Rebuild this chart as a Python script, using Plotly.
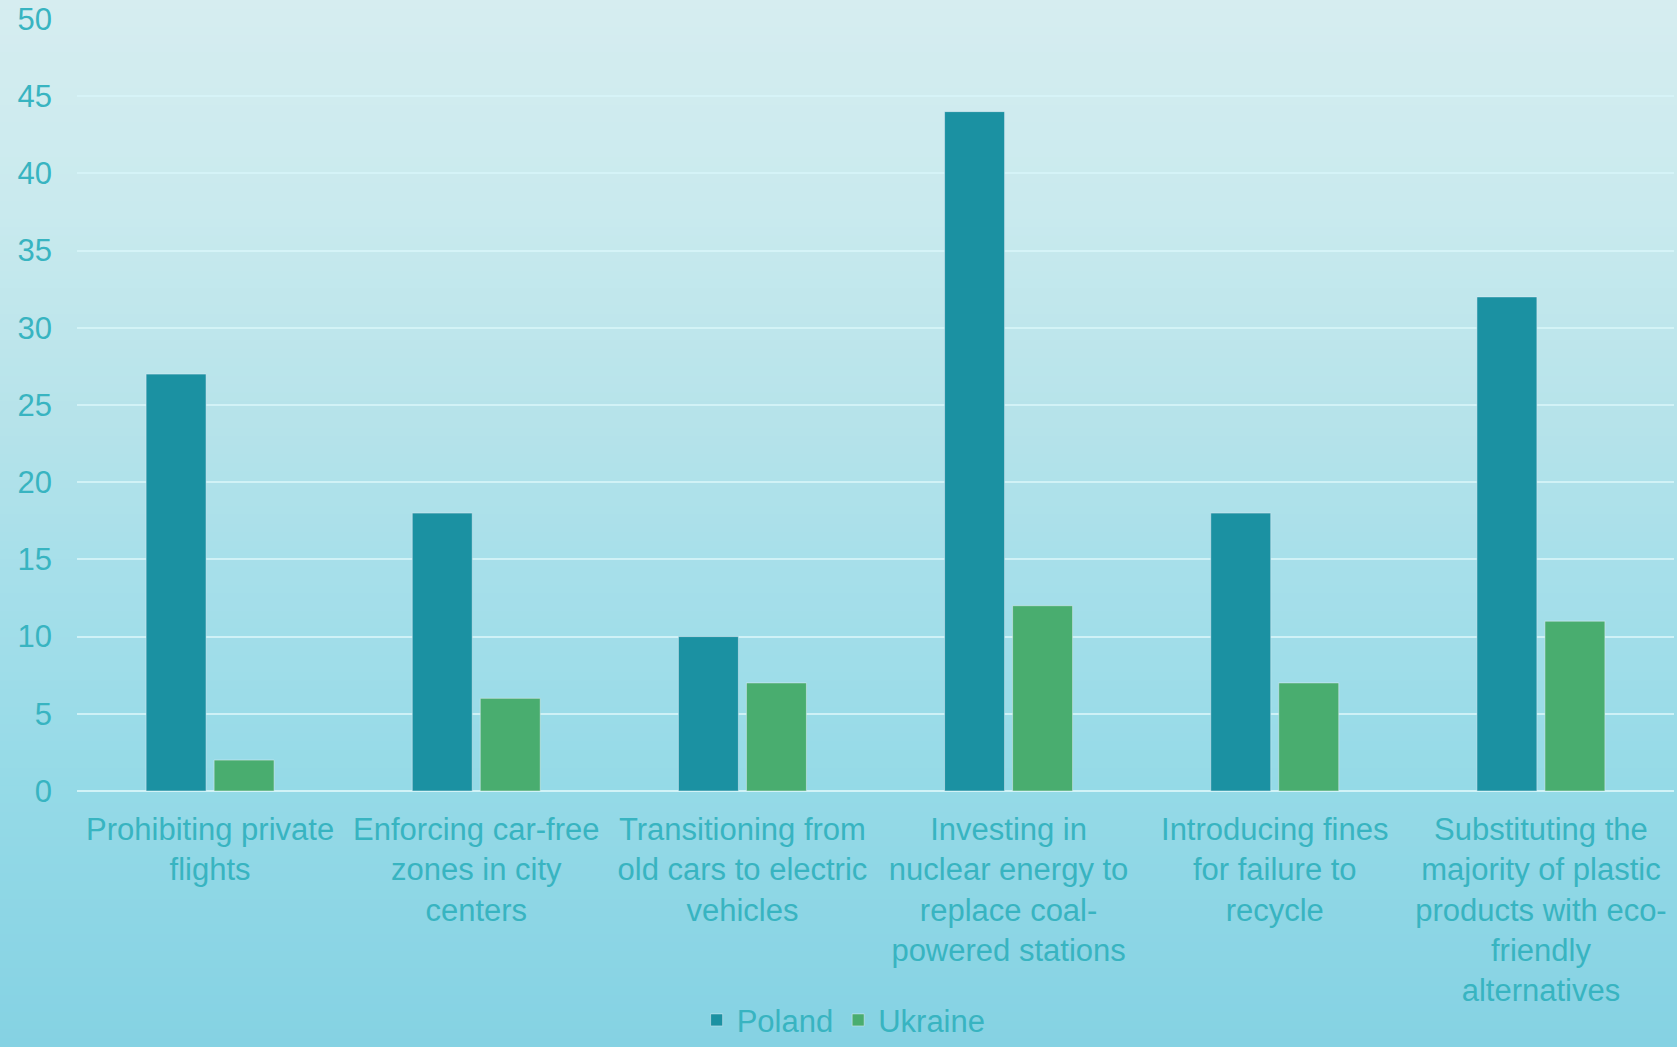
import plotly.graph_objects as go

categories = [
    "Prohibiting private<br>flights",
    "Enforcing car-free<br>zones in city<br>centers",
    "Transitioning from<br>old cars to electric<br>vehicles",
    "Investing in<br>nuclear energy to<br>replace coal-<br>powered stations",
    "Introducing fines<br>for failure to<br>recycle",
    "Substituting the<br>majority of plastic<br>products with eco-<br>friendly<br>alternatives",
]
poland = [27, 18, 10, 44, 18, 32]
ukraine = [2, 6, 7, 12, 7, 11]
y_ticks = [0, 5, 10, 15, 20, 25, 30, 35, 40, 45, 50]

W, H = 1677, 1047
ML, MR, MT, MB = 77, 3, 19, 256
TEXT = "#38B4C1"
FONT = "Liberation Sans, Arial, sans-serif"

fig = go.Figure()
fig.add_trace(go.Bar(name="Poland", x=categories, y=poland, marker_color="#1B91A2"))
fig.add_trace(go.Bar(name="Ukraine", x=categories, y=ukraine, marker_color="#49AD6F"))

# background gradient stripes
stops = [(0.0, (0xD6, 0xED, 0xF0)), (0.2, (0xC9, 0xEA, 0xEE)), (0.4, (0xB6, 0xE3, 0xEA)),
         (0.55, (0xA6, 0xDF, 0xEA)), (0.75, (0x95, 0xDA, 0xE7)), (1.0, (0x85, 0xD2, 0xE3))]

def col(t):
    for (t0, c0), (t1, c1) in zip(stops[:-1], stops[1:]):
        if t0 <= t <= t1:
            f = (t - t0) / (t1 - t0)
            return "rgb(%d,%d,%d)" % tuple(round(a + (b - a) * f) for a, b in zip(c0, c1))
    return "rgb(%d,%d,%d)" % stops[-1][1]

ph = H - MT - MB
pw = W - ML - MR
N = 120
shapes = []
for i in range(N):
    top_px = H * i / N
    bot_px = H * (i + 1) / N + 1
    y1 = (H - MB - top_px) / ph
    y0 = (H - MB - bot_px) / ph
    shapes.append(dict(type="rect", xref="paper", yref="paper",
                       x0=-ML / pw - 0.01, x1=1 + MR / pw + 0.01, y0=y0, y1=y1,
                       fillcolor=col((i + 0.5) / N), line_width=0, layer="below"))

fig.update_layout(
    width=W, height=H,
    margin=dict(l=ML, r=MR, t=MT, b=MB, autoexpand=False),
    paper_bgcolor="#A8E0EA", plot_bgcolor="rgba(0,0,0,0)",
    shapes=shapes,
    barmode="group", bargap=0.489, bargroupgap=0.118,
    font=dict(family=FONT, size=31, color=TEXT),
    showlegend=True,
    legend=dict(orientation="h", x=0.388, xanchor="left", y=-0.262, yanchor="top",
                font=dict(size=31, color=TEXT), bgcolor="rgba(0,0,0,0)",
                itemwidth=30, tracegroupgap=0),
    xaxis=dict(showgrid=False, showline=False, ticks="", tickfont=dict(size=31, color=TEXT),
               tickangle=0, ticklabelstandoff=17),
    yaxis=dict(range=[0, 50], tickvals=y_ticks, showgrid=True, gridcolor="rgba(215,245,248,0.85)",
               gridwidth=2, zeroline=True, zerolinecolor="rgba(215,245,248,0.9)", zerolinewidth=2,
               ticks="", tickfont=dict(size=31, color=TEXT), ticklabelstandoff=24),
)

fig.write_html("out.html", config={"displayModeBar": False},
               post_script="document.body.style.margin='0';document.body.style.overflow='hidden';")
